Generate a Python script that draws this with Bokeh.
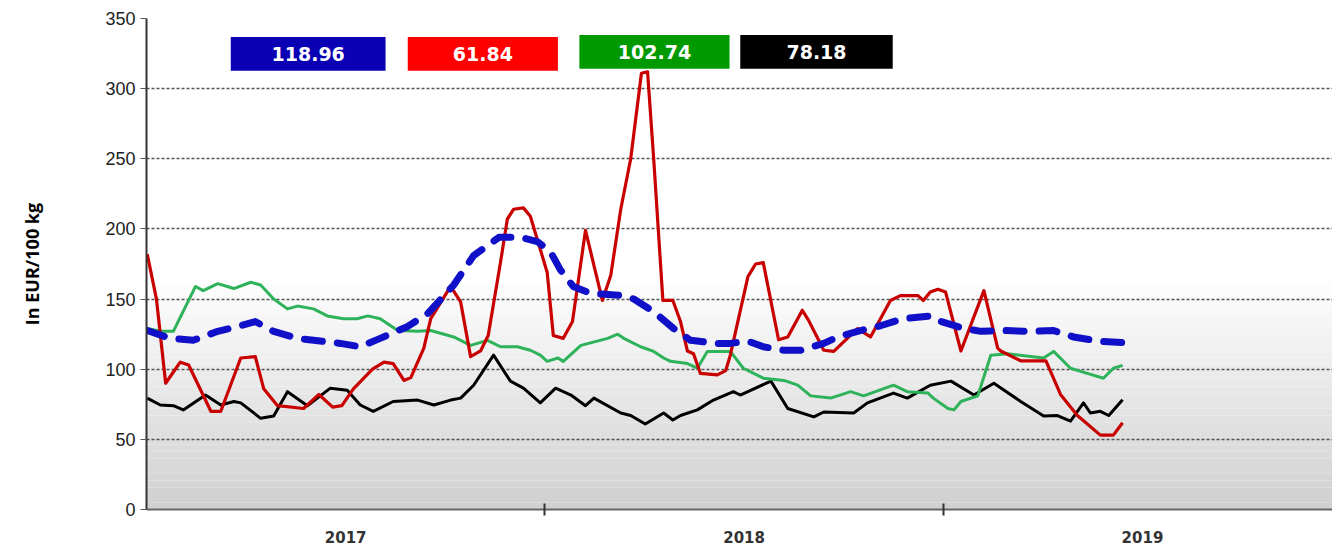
from bokeh.plotting import figure
from bokeh.models import FixedTicker, BoxAnnotation, Label, Range1d
from bokeh.embed import file_html
from bokeh.resources import INLINE

# ---- data (x = weeks since start of chart, y = EUR/100 kg) ----
blue_x = [0.1, 3.1, 6.1, 9.3, 12.3, 14.2, 16.6, 19.7, 21.8, 25.3, 27.9, 30.5, 34.1, 36.7, 40.1,
          42.7, 46.0, 48.8, 51.0, 52.7, 54.0, 55.7, 58.0, 62.3, 63.6, 66.2, 68.8, 71.0, 74.5,
          76.2, 78.5, 80.5, 83.2, 85.4, 88.4, 90.2, 92.8, 95.8, 98.8, 102.3, 103.7, 106.7,
          108.9, 111.9, 115.4, 118.4, 121.0, 124.2, 127.5]
blue_y = [127.6, 122, 120.6, 127, 131, 134, 127, 122, 120.6, 118.4, 116, 122, 130.5, 139.7, 160,
          181, 194, 194, 191, 184, 171, 159, 154, 152.5, 150, 141, 129, 120.6, 118.4,
          118.4, 120, 116, 113.5, 113.5, 118.4, 123, 127, 131, 136, 138, 134, 129,
          127, 127.6, 127, 127.6, 123, 120, 118.96]

red_x = [0.1, 1.3, 2.5, 4.4, 5.5, 8.4, 9.7, 12.3, 14.2, 15.3, 17.1, 20.5, 22.5, 24.3, 25.5, 27.0,
         29.5, 31.0, 32.2, 33.6, 34.5, 36.2, 37.1, 39.7, 41.0, 42.3, 43.6, 44.6, 46.2, 47.1,
         47.9, 49.2, 50.1, 52.3, 53.1, 54.4, 55.6, 57.3, 59.5, 60.6, 61.9, 63.2, 64.6, 65.4,
         66.2, 67.4, 68.7, 69.7, 70.6, 71.4, 72.3, 74.5, 75.6, 76.2, 78.5, 79.5, 80.5, 82.5,
         83.7, 85.6, 86.4, 88.4, 89.7, 92.8, 94.5, 97.1, 98.4, 100.7, 101.4, 102.3, 103.3,
         104.3, 106.3, 109.3, 111.1, 111.5, 114.1, 117.4, 119.3, 121.5, 124.5, 126.2, 127.4]
red_y = [182, 150, 90, 105, 103, 70, 70, 108, 109, 86, 74, 72, 82, 73, 74, 86,
         100, 105, 104, 92, 94, 115, 136, 159, 148, 109, 113, 124, 176, 207,
         214, 215, 209, 169, 124, 122, 134, 199, 149, 167, 214, 250, 311, 312,
         250, 149, 149, 134, 113, 111, 97, 96, 99, 110, 166, 175, 176, 121,
         123, 142, 135, 113.5, 112.7, 129, 123, 149, 152.5, 152.5, 149, 155, 157,
         155, 113, 156, 115, 113, 106, 106, 82, 67, 53, 53, 61.84]

green_x = [0.1, 1.8, 3.5, 6.4, 7.4, 9.3, 11.4, 13.6, 14.9, 16.6, 18.4, 19.7, 21.8, 23.6, 25.7,
           27.5, 28.9, 30.5, 32.8, 35.4, 37.1, 40.1, 42.3, 44.5, 46.2, 48.4, 50.1, 51.4, 52.3,
           53.7, 54.4, 56.7, 60.2, 61.5, 62.3, 64.5, 66.2, 67.5, 68.4, 70.6, 71.9, 73.2, 76.2,
           77.9, 80.5, 83.2, 85.0, 86.7, 89.3, 91.9, 93.6, 97.5, 99.3, 102.0, 102.7, 104.6,
           105.4, 106.3, 108.5, 110.2, 112.4, 115.4, 117.1, 118.4, 120.6, 122.8, 124.9, 126.2,
           127.4]
green_y = [129, 127, 127, 159, 156, 161, 157.5, 162, 160, 150, 143, 145, 143, 138, 136,
           136, 138, 136, 127.6, 127, 127.6, 123, 117, 120.6, 116, 116, 113.5, 110, 105.6,
           108, 105.6, 117, 122, 125, 122, 116, 112.7, 108, 105.6, 104, 100.7, 112.7, 112.7,
           100.7, 93.6, 92, 88.6, 81, 79.4, 84, 81, 88.6, 84, 83, 79.4, 72,
           71, 77, 81, 110, 111, 109, 108, 112.7, 100.7, 97, 93.6, 100.7,
           102.74]

black_x = [0.1, 1.8, 3.5, 4.8, 7.7, 9.7, 11.4, 12.3, 14.9, 16.6, 18.4, 21.0, 22.3, 24.0, 26.2,
           27.9, 29.6, 32.2, 35.4, 37.5, 39.7, 41.0, 42.7, 45.3, 47.5, 49.2, 51.4, 53.4, 55.4,
           57.3, 58.4, 61.9, 63.2, 65.1, 67.5, 68.7, 69.7, 71.9, 74.0, 76.6, 77.5, 81.5, 83.7,
           87.1, 88.4, 92.3, 94.1, 97.5, 99.3, 102.3, 105.0, 108.0, 110.6, 114.1, 117.1, 118.9,
           120.6, 122.3, 123.2, 124.5, 125.6, 127.4]
black_y = [79.4, 74.5, 74, 71, 81.6, 74.5, 77, 76, 65, 66.6, 84, 74, 79.4, 86.5, 85,
           74.5, 70, 77, 78, 74.5, 78, 79.4, 88.6, 110, 91.5, 86.5, 76, 86.5, 81.6,
           74, 79.4, 68.8, 67, 61, 68.8, 63.8, 67, 71, 78, 84, 81.6, 91.5, 72,
           66, 69.5, 68.8, 76, 83, 79.4, 88.6, 91.5, 81.6, 90, 77, 66.6, 67,
           63, 76, 68.8, 70, 67, 78.18]

year_ticks = [26, 78, 130]
year_labels = ["2017", "2018", "2019"]
year_bounds = [52, 104]
y_ticks = [0, 50, 100, 150, 200, 250, 300, 350]

X_END = 154.8
Y_END = 350

p = figure(width=1332, height=545, output_backend="svg", toolbar_location=None,
           x_range=Range1d(0, X_END), y_range=Range1d(0, Y_END),
           min_border_left=146, min_border_right=0, min_border_top=18, min_border_bottom=33)
p.outline_line_color = None
p.background_fill_color = "white"
p.border_fill_color = "white"

# gradient background (light grey at the bottom fading to white)
n = 32
top_val = 165.0
lefts, rights, bottoms, tops, cols = [], [], [], [], []
for i in range(n):
    b = top_val * i / n
    t = top_val * (i + 1) / n
    f = (i + 0.5) / n
    c = int(208 + (255 - 208) * f)
    lefts.append(0); rights.append(X_END); bottoms.append(b); tops.append(t)
    cols.append("#%02x%02x%02x" % (c, c, c))
p.quad(left=lefts, right=rights, bottom=bottoms, top=tops, fill_color=cols,
       line_color=None, level="image")

# grid
p.xgrid.visible = False
p.ygrid.ticker = FixedTicker(ticks=y_ticks)
p.ygrid.grid_line_color = "#555555"
p.ygrid.grid_line_dash = "3 2"
p.ygrid.grid_line_width = 1.6

# series
p.line(black_x, black_y, line_color="black", line_width=3, line_join="round")
p.line(green_x, green_y, line_color="#2eb25a", line_width=3, line_join="round")
p.line(red_x, red_y, line_color="#c80000", line_width=3.2, line_join="round")
p.line(blue_x, blue_y, line_color="#1010c8", line_width=7, line_dash="18 15",
       line_cap="round", line_join="round")

# y axis
ya = p.yaxis[0]
ya.ticker = FixedTicker(ticks=y_ticks)
ya.axis_line_color = "#333333"
ya.axis_line_width = 2
ya.major_tick_out = 6
ya.major_tick_in = 0
ya.major_tick_line_color = "#555555"
ya.minor_tick_line_color = None
ya.major_label_text_font = "Liberation Sans"
ya.major_label_text_font_size = "18px"
ya.major_label_text_color = "#222222"
ya.major_label_standoff = 5
ya.axis_label = "In EUR/100 kg"
ya.axis_label_text_font = "Open Sans"
ya.axis_label_text_font_style = "bold"
ya.axis_label_text_font_size = "18px"
ya.axis_label_text_color = "black"
ya.axis_label_standoff = 58

# x axis
xa = p.xaxis[0]
xa.ticker = FixedTicker(ticks=year_ticks, minor_ticks=year_bounds)
xa.major_label_overrides = {t: l for t, l in zip(year_ticks, year_labels)}
xa.major_tick_in = 0
xa.major_tick_out = 0
xa.minor_tick_in = 6
xa.minor_tick_out = 6
xa.minor_tick_line_color = "#333333"
xa.minor_tick_line_width = 2
xa.axis_line_color = "#666666"
xa.axis_line_width = 2
xa.major_label_text_font = "DejaVu Sans"
xa.major_label_text_font_style = "bold"
xa.major_label_text_font_size = "15px"
xa.major_label_text_color = "#333333"
xa.major_label_standoff = 15

# value boxes (latest values)
box_cols = ["#0a00b4", "#ff0000", "#009a00", "#000000"]
latest = [blue_y[-1], red_y[-1], green_y[-1], black_y[-1]]
box_left = [11.0, 34.1, 56.5, 77.5]
box_right = [31.2, 53.7, 76.1, 97.4]
box_bottom = [312.8, 312.8, 314.2, 314.2]
box_top = [336.9, 336.9, 338.3, 338.3]
for c, v, l, r, b, t in zip(box_cols, latest, box_left, box_right, box_bottom, box_top):
    p.add_layout(BoxAnnotation(left=l, right=r, bottom=b, top=t, fill_color=c,
                               fill_alpha=1.0, line_color=None))
    p.add_layout(Label(x=(l + r) / 2, y=(b + t) / 2, text="%.2f" % v,
                       text_align="center", text_baseline="middle",
                       text_color="white", text_font="DejaVu Sans",
                       text_font_style="bold", text_font_size="19px"))

open("out.html", "w").write(file_html(p, INLINE))
